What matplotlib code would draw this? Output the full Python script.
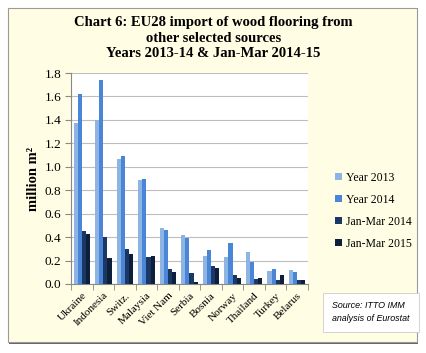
"""EU28 import of wood flooring from other selected sources, grouped bars"""
import numpy as np
from matplotlib import pyplot as plt
from matplotlib.patches import Rectangle

countries = ["Ukraine", "Indonesia", "Switz.", "Malaysia", "Viet Nam", "Serbia",
             "Bosnia", "Norway", "Thailand", "Turkey", "Belarus"]
year_2013 = [1.37, 1.40, 1.07, 0.89, 0.48, 0.42, 0.24, 0.23, 0.27, 0.11, 0.12]
year_2014 = [1.62, 1.74, 1.09, 0.90, 0.46, 0.39, 0.29, 0.35, 0.19, 0.13, 0.10]
janmar_2014 = [0.45, 0.40, 0.30, 0.23, 0.13, 0.09, 0.15, 0.08, 0.04, 0.03, 0.03]
janmar_2015 = [0.43, 0.22, 0.26, 0.24, 0.10, 0.02, 0.14, 0.05, 0.05, 0.08, 0.03]
series_names = ["Year 2013", "Year 2014", "Jan-Mar 2014", "Jan-Mar 2015"]
yticks = [0.0, 0.2, 0.4, 0.6, 0.8, 1.0, 1.2, 1.4, 1.6, 1.8]

colors = ["#8EB4E3", "#4A86D8", "#1B3763", "#0D1F3A"]
serif = "Liberation Serif"

W, H = 427, 353
fig = plt.figure(figsize=(W / 100, H / 100), dpi=100)
fig.patch.set_facecolor("white")

# yellow panel with grey frame
fig.patches.append(Rectangle((9 / W, 1 - 344 / H), 409 / W, 336 / H,
                             transform=fig.transFigure, facecolor="#666666",
                             edgecolor="none", zorder=-2))
fig.patches.append(Rectangle((8 / W, 1 - 342 / H), 409 / W, 334 / H,
                             transform=fig.transFigure, facecolor="#FFFDE3",
                             edgecolor="#9A9A9A", linewidth=0.8, zorder=-1))

ax = fig.add_axes([71 / W, 1 - 284 / H, 237 / W, 211 / H])
ax.set_facecolor("white")

x = np.arange(len(countries))
bw = 0.19
data = [year_2013, year_2014, janmar_2014, janmar_2015]
for k, vals in enumerate(data):
    ax.bar(x + (k - 1.5) * bw, vals, bw, color=colors[k], label=series_names[k],
           zorder=3)

ax.set_xlim(-0.5, len(countries) - 0.5)
ax.set_ylim(0, 1.8)
ax.set_yticks(yticks)
ax.set_yticklabels([f"{v:.1f}" for v in yticks], family=serif, fontsize=9.5)
ax.yaxis.grid(True, color="#BDBDBD", linewidth=0.8, zorder=0)
ax.set_xticks(x)
ax.set_xticklabels(countries, rotation=45, ha="right", rotation_mode="anchor",
                   family=serif, fontsize=8)
ax.set_xticks(np.arange(-0.5, len(countries)), minor=True)
ax.tick_params(axis="x", which="major", length=0, pad=5)
ax.tick_params(axis="x", which="minor", length=4, color="#888888")
ax.tick_params(axis="y", length=4, color="#888888", pad=3)
for side in ["top", "right"]:
    ax.spines[side].set_visible(False)
for side in ["left", "bottom"]:
    ax.spines[side].set_color("#888888")
    ax.spines[side].set_linewidth(0.8)

ax.set_ylabel("million m²", family=serif, fontsize=10.5, fontweight="bold",
              labelpad=3)

fig.text(0.5, 1 - 16 / H, "Chart 6: EU28 import of wood flooring from\n"
         "other selected sources\nYears 2013-14 & Jan-Mar 2014-15",
         ha="center", va="top", family=serif, fontsize=10.5, fontweight="bold",
         linespacing=1.25)

leg = fig.legend(loc="upper left", bbox_to_anchor=(330 / W, 1 - 167 / H),
                 frameon=False, prop={"family": serif, "size": 8.5},
                 handlelength=0.6, handleheight=0.6, handletextpad=0.35,
                 labelspacing=0.85, borderaxespad=0)

fig.patches.append(Rectangle((323 / W, 1 - 332 / H), 96 / W, 39 / H,
                             transform=fig.transFigure, facecolor="white",
                             edgecolor="#CCCCCC", linewidth=0.6))
fig.text(332 / W, 1 - 312 / H, "Source: ITTO IMM\nanalysis of Eurostat",
         ha="left", va="center", fontsize=6.4, style="italic",
         family="Liberation Sans", linespacing=1.6)

fig.savefig("out.png", dpi=100)
